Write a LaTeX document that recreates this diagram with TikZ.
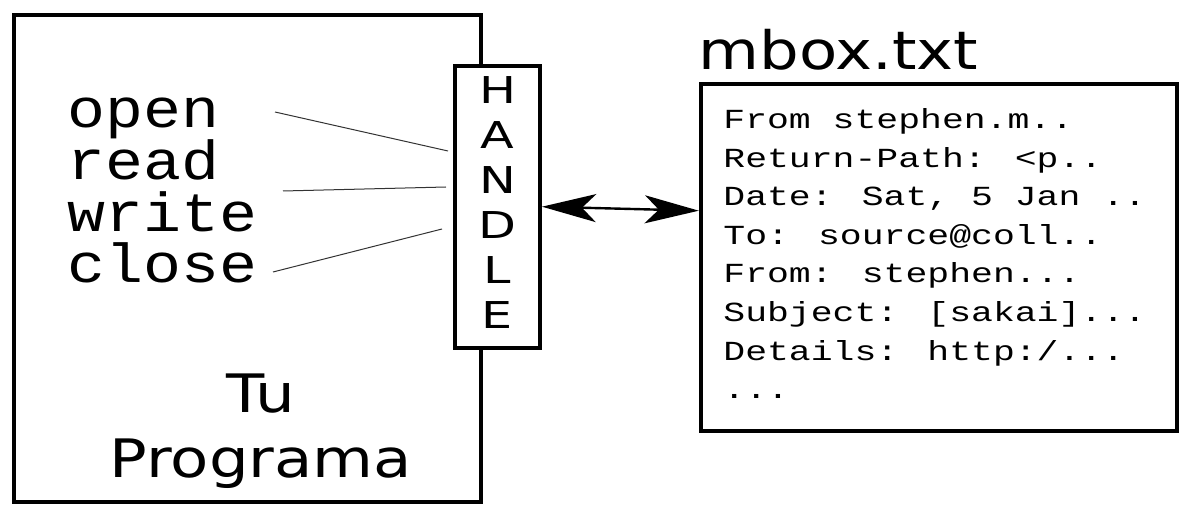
\documentclass[tikz,border=0pt]{standalone}
\usepackage{fontspec}
\setmainfont{DejaVu Sans}
\newfontfamily\progfont[FakeStretch=1.18]{DejaVu Sans}
\newfontfamily\handlefont[FakeStretch=1.33]{DejaVu Sans}
\newfontfamily\wordfont[FakeStretch=1.15]{Liberation Mono}
\newfontfamily\mailfont[FakeStretch=1.32]{Liberation Mono}
\usetikzlibrary{arrows.meta}

\tikzset{
  frame/.style={draw, line width=2pt, inner sep=0pt, fill=white},
  wire/.style={draw=black!80, line width=0.5pt},
  opword/.style={anchor=base west, inner sep=0pt, font=\wordfont\fontsize{27.5}{27.5}\selectfont}
}

\begin{document}
\begin{tikzpicture}[x=0.5pt,y=-0.5pt]
  \useasboundingbox (0,0) rectangle (1194,518);

  % Program box
  \node[frame, minimum width=233.7pt, minimum height=243pt] (prog) at (247.4,258.5) {};
  \node[anchor=north, inner sep=0pt, align=center, font=\progfont\fontsize{26.5}{32.5}\selectfont] (progname) at (261,373) {Tu\\Programa};

  % File operations
  \node[opword] (open)  at (67,128) {open};
  \node[opword] (read)  at (67,180) {read};
  \node[opword] (write) at (67,232) {write};
  \node[opword] (close) at (67,283) {close};

  % Handle (drawn over the right wall)
  \node[frame, minimum width=42.5pt, minimum height=140.8pt] (handle) at (497.5,206.7) {};
  \node[anchor=north, inner sep=0pt, align=center, font=\handlefont\fontsize{18.5}{22.5}\selectfont] (handletext) at (497.5,76) {H\\A\\N\\D\\L\\E};

  % Wires from the operations to the handle
  \coordinate (open-a)  at (275,112);  \coordinate (open-b)  at (448,151);
  \coordinate (read-a)  at (283,191);  \coordinate (read-b)  at (446,187);
  \coordinate (close-a) at (273,272);  \coordinate (close-b) at (442,229);
  \draw[wire] (open-a) -- (open-b);
  \draw[wire] (read-a) -- (read-b);
  \draw[wire] (close-a) -- (close-b);

  % File box
  \node[anchor=base west, inner sep=0pt, font=\progfont\fontsize{26.5}{26.5}\selectfont] (mboxname) at (698,70) {mbox.txt};
  \node[frame, minimum width=237.9pt, minimum height=173.3pt] (mbox) at (938.7,257.5) {};
  \node[anchor=north west, inner sep=0pt, align=left, font=\mailfont\fontsize{13.8}{19.3}\selectfont] (mailtext) at (723,108)
    {From stephen.m..\\Return-Path: <p..\\Date: Sat, 5 Jan ..\\To: source@coll..\\From: stephen...\\Subject: [sakai]...\\Details: http:/...\\...};

  % Two-way link
  \draw[line width=1.2pt, {Stealth[length=27pt, width=14pt, inset=7pt]}-{Stealth[length=27pt, width=14pt, inset=7pt]}]
    (handle.east) -- ([yshift=-2pt]handle.east -| mbox.west);
\end{tikzpicture}
\end{document}
